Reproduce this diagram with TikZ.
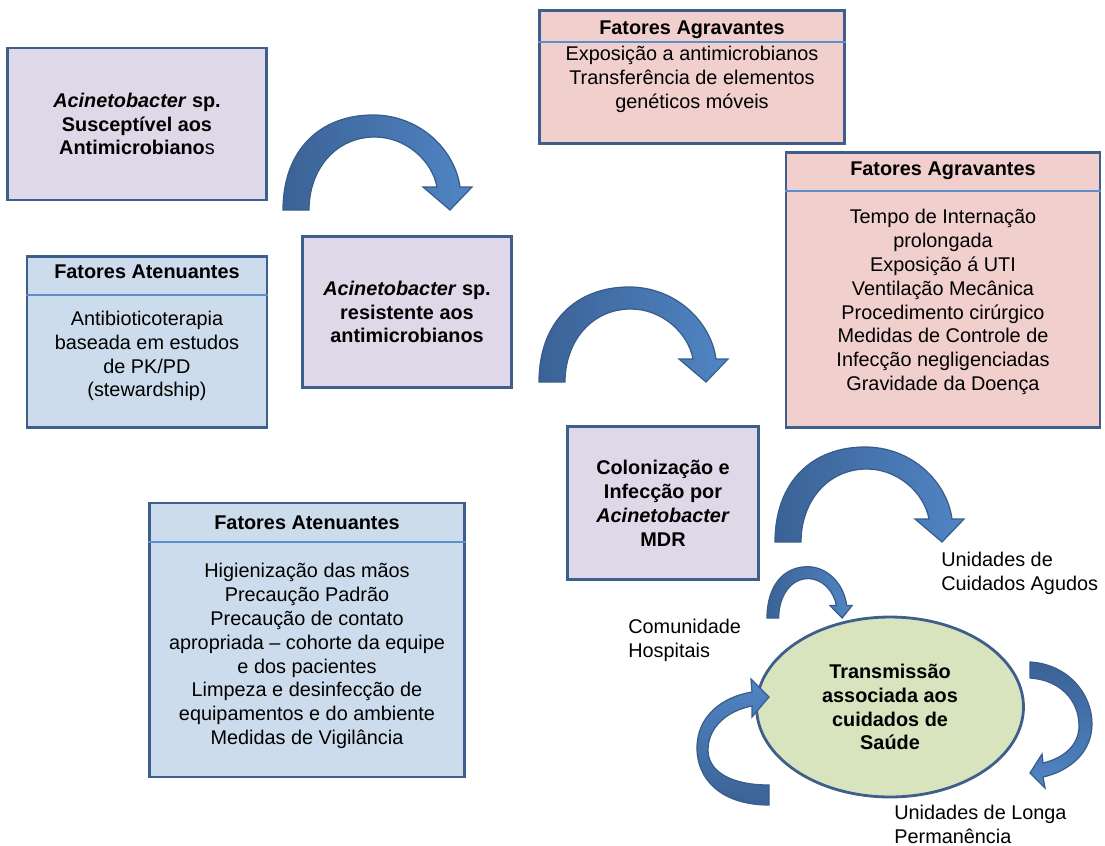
\documentclass[tikz,border=0pt]{standalone}
\usepackage{fontspec}
\setmainfont{Liberation Sans}
\usetikzlibrary{shapes.geometric, positioning, calc}
\definecolor{boxline}{HTML}{3E5F8C}
\definecolor{boxpurple}{HTML}{DFD8E8}
\definecolor{boxblue}{HTML}{CDDCEC}
\definecolor{boxpink}{HTML}{F0CFCD}
\definecolor{ellgreen}{HTML}{D7E4BD}
\definecolor{dividerblue}{HTML}{5B8ECF}
\definecolor{arrowdark}{HTML}{3B6296}
\definecolor{arrowlight}{HTML}{5085C4}
\definecolor{arrowline}{HTML}{385D8A}
\newcommand{\diagfont}{\fontsize{11.3}{13.6}\selectfont}

\begin{document}
\begin{tikzpicture}[x=0.02cm, y=-0.02cm,
  box/.style={rectangle, draw=boxline, line width=1.6pt, inner sep=2pt, align=center, font=\diagfont\bfseries},
  stage/.style={box, fill=boxpurple},
  mitig/.style={box, fill=boxblue},
  aggrav/.style={box, fill=boxpink},
  title/.style={font=\diagfont\bfseries, inner sep=0pt},
  body/.style={font=\diagfont, align=center, inner sep=0pt},
  plain/.style={font=\diagfont, align=left, inner sep=0pt, anchor=west},
  divider/.style={draw=dividerblue, line width=0.9pt},
  curvarrow/.style={draw=arrowline, line width=0.7pt},
  sideshade/.style={left color=arrowdark, right color=arrowlight}
]
  \useasboundingbox (0,0) rectangle (1105,845);

  % Stages
  \node[stage, minimum width=5.18cm, minimum height=3.04cm] (suscept) at (137,124) {\textit{Acinetobacter} sp.\\Susceptível aos\\Antimicrobiano{\mdseries s}};
  \node[stage, minimum width=4.18cm, minimum height=3.02cm] (resist) at (407,312) {\textit{Acinetobacter} sp.\\resistente aos\\antimicrobianos};
  \node[stage, minimum width=3.82cm, minimum height=3.06cm] (coloniz) at (663,503) {Colonização e\\Infecção por\\\textit{Acinetobacter}\\MDR};

  % Fatores atenuantes
  \node[mitig, minimum width=4.8cm, minimum height=3.42cm] (atenua1) at (147,342) {};
  \node[title] (atenua1h) at (147,272) {Fatores Atenuantes};
  \draw[divider] (atenua1.west |- 0,295) -- (atenua1.east |- 0,295);
  \node[body] (atenua1t) at (147,356) {Antibioticoterapia\\baseada em estudos\\de PK/PD\\(stewardship)};

  \node[mitig, minimum width=6.3cm, minimum height=5.48cm] (atenua2) at (307,640) {};
  \node[title] (atenua2h) at (307,523) {Fatores Atenuantes};
  \draw[divider] (atenua2.west |- 0,542) -- (atenua2.east |- 0,542);
  \node[body] (atenua2t) at (307,656) {Higienização das mãos\\Precaução Padrão\\Precaução de contato\\apropriada – cohorte da equipe\\e dos pacientes\\Limpeza e desinfecção de\\equipamentos e do ambiente\\Medidas de Vigilância};

  % Fatores agravantes
  \node[aggrav, minimum width=6.1cm, minimum height=2.66cm] (agrava1) at (692,77) {};
  \node[title] (agrava1h) at (692,30) {Fatores Agravantes};
  \draw[divider] (agrava1.west |- 0,42) -- (agrava1.east |- 0,42);
  \node[body] (agrava1t) at (692,79) {Exposição a antimicrobianos\\Transferência de elementos\\genéticos móveis};

  \node[aggrav, minimum width=6.28cm, minimum height=5.5cm] (agrava2) at (943,290) {};
  \node[title] (agrava2h) at (943,171) {Fatores Agravantes};
  \draw[divider] (agrava2.west |- 0,191) -- (agrava2.east |- 0,191);
  \node[body] (agrava2t) at (943,302) {Tempo de Internação\\prolongada\\Exposição á UTI\\Ventilação Mecânica\\Procedimento cirúrgico\\Medidas de Controle de\\Infecção negligenciadas\\Gravidade da Doença};

  % Transmission
  \node[ellipse, draw=boxline, line width=1.6pt, fill=ellgreen, minimum width=5.34cm, minimum height=3.6cm, align=center, font=\diagfont\bfseries] (transm) at (890,707) {Transmissão\\associada aos\\cuidados de\\Saúde};

  \node[plain] (agudos) at (941,573) {Unidades de\\Cuidados Agudos};
  \node[plain] (comun) at (628,640) {Comunidade\\Hospitais};
  \node[plain] (longa) at (894,824) {Unidades de Longa\\Permanência};

  % Curved arrows
  \foreach \dx/\dy/\sx/\sy in {283/210/1/1, 539/382/1/1, 775/542/1/1, 767/618/0.45/0.54}
    \path[curvarrow, sideshade, shift={(\dx,\dy)}, xscale=\sx, yscale=\sy]
      (0,0) .. controls (0,-60) and (37,-95) .. (90,-95)
      .. controls (137,-95) and (172,-60) .. (177,-23) -- (189,-23) -- (167,0) -- (140,-23) -- (154,-23)
      .. controls (149,-50) and (122,-73) .. (92,-73)
      .. controls (52,-73) and (26,-40) .. (26,0) -- cycle;

  \path[curvarrow, top color=arrowlight, bottom color=arrowdark]
    (769,805) .. controls (722,805) and (697,780) .. (697,748)
    .. controls (697,716) and (722,697) .. (752,692) -- (751,679) -- (769,697) -- (752,717) -- (752,706)
    .. controls (726,711) and (708,728) .. (708,750)
    .. controls (708,771) and (730,785) .. (769,785) -- cycle;
  \path[curvarrow, top color=arrowdark, bottom color=arrowlight]
    (1030,662) .. controls (1067,664) and (1092,693) .. (1092,724)
    .. controls (1092,752) and (1070,771) .. (1043,777) -- (1045,788) -- (1030,773) -- (1042,754) -- (1043,763)
    .. controls (1064,758) and (1079,745) .. (1079,726)
    .. controls (1079,700) and (1060,680) .. (1030,678) -- cycle;
\end{tikzpicture}
\end{document}
